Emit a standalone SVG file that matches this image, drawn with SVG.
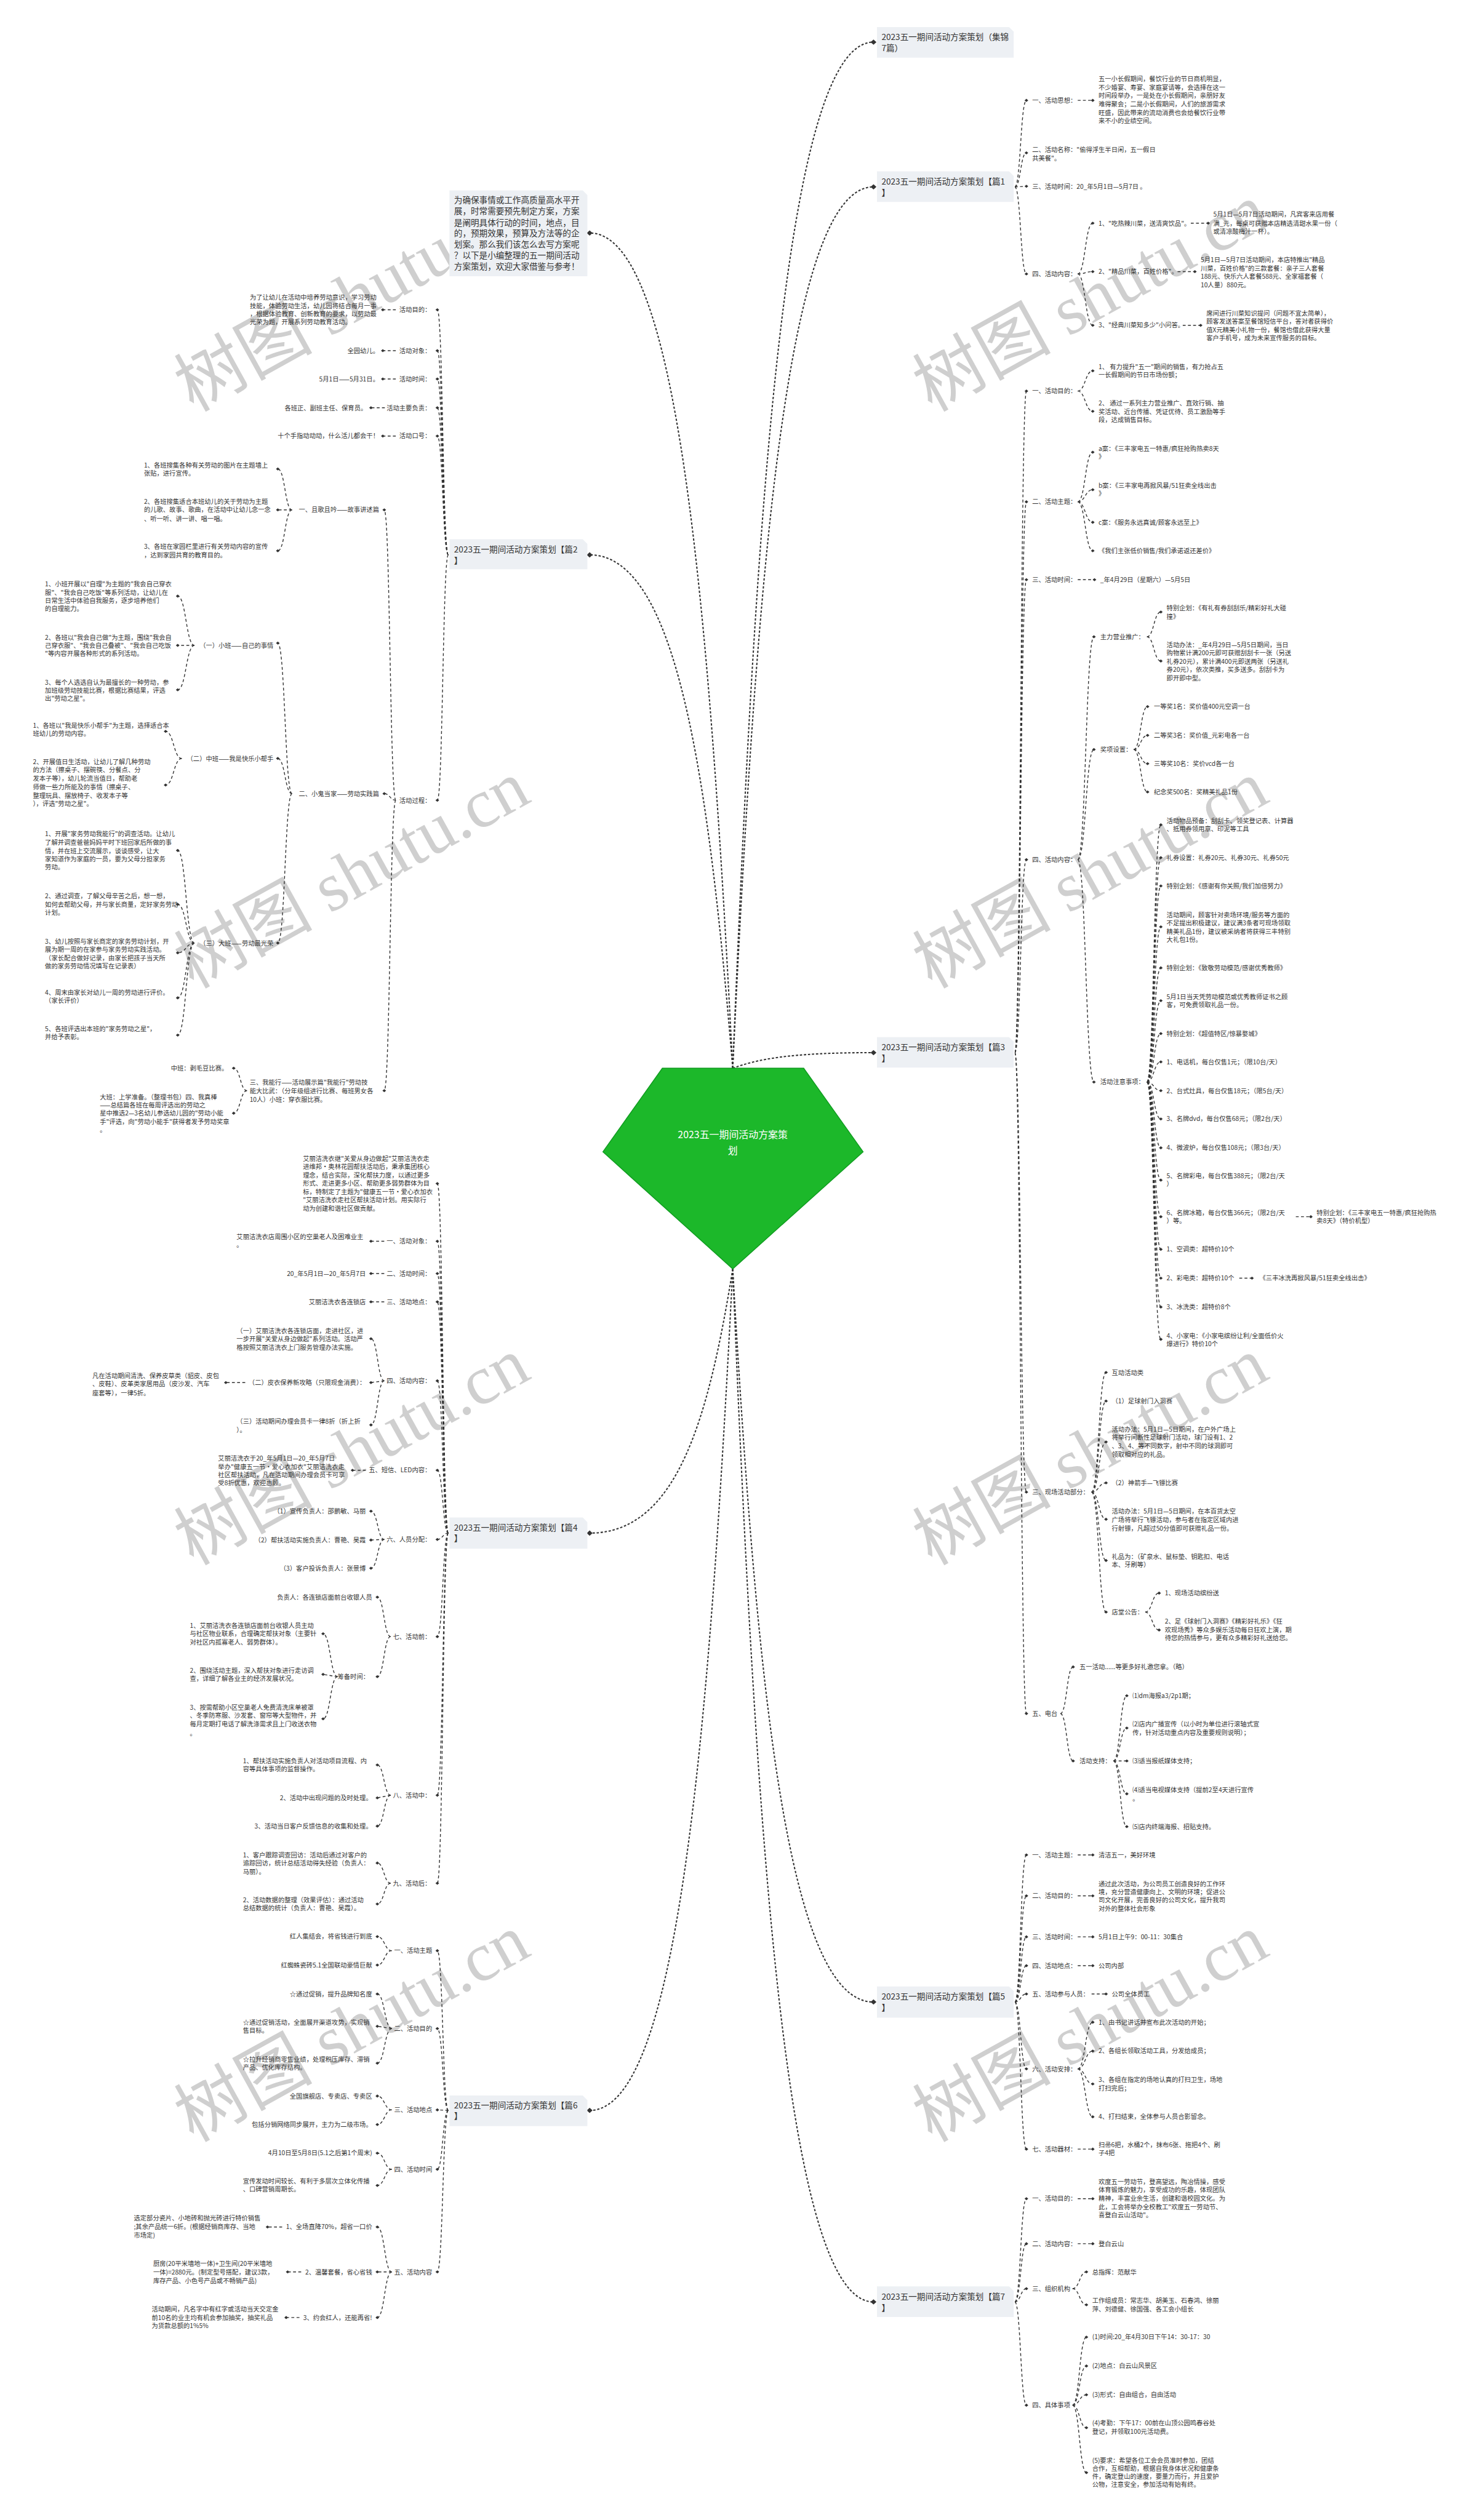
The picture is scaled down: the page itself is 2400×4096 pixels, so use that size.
<svg xmlns="http://www.w3.org/2000/svg" width="2400" height="4096" viewBox="0 0 2400 4096">
<defs>
<style>
.t{font-family:"Noto Sans CJK SC","Liberation Sans",sans-serif;font-size:11px;fill:#333}
.h{font-family:"Noto Sans CJK SC","Liberation Sans",sans-serif;font-size:14.5px;fill:#333}
.e{text-anchor:end}
.c{stroke:#333;stroke-width:1.5;fill:none;stroke-dasharray:5 4;marker-end:url(#dm)}
.m{stroke:#333;stroke-width:2.2;fill:none;stroke-dasharray:4 3;marker-end:url(#dl)}
.box{fill:#edf0f4}
.wm{font-family:"Liberation Serif","Noto Sans CJK SC",serif;font-size:120px;fill:#cfcfcf}
</style>
<marker id="dm" viewBox="-5 -5 10 10" markerWidth="8" markerHeight="8" markerUnits="userSpaceOnUse" refX="0" refY="0" orient="0"><path d="M-4,0L0,-3.4L4,0L0,3.4Z" fill="#333"/></marker>
<marker id="dl" viewBox="-6 -6 12 12" markerWidth="11" markerHeight="11" markerUnits="userSpaceOnUse" refX="0" refY="0" orient="0"><path d="M-5.5,0L0,-5L5.5,0L0,5Z" fill="#333"/></marker>
</defs>
<rect width="2400" height="4096" fill="#fff"/>
<g transform="scale(0.9375)">
<g id="watermarks">
<text class="wm" x="335" y="715" transform="rotate(-29 335 715)">树图 shutu.cn</text>
<text class="wm" x="335" y="1715" transform="rotate(-29 335 1715)">树图 shutu.cn</text>
<text class="wm" x="335" y="2715" transform="rotate(-29 335 2715)">树图 shutu.cn</text>
<text class="wm" x="335" y="3715" transform="rotate(-29 335 3715)">树图 shutu.cn</text>
<text class="wm" x="1615" y="715" transform="rotate(-29 1615 715)">树图 shutu.cn</text>
<text class="wm" x="1615" y="1715" transform="rotate(-29 1615 1715)">树图 shutu.cn</text>
<text class="wm" x="1615" y="2715" transform="rotate(-29 1615 2715)">树图 shutu.cn</text>
<text class="wm" x="1615" y="3715" transform="rotate(-29 1615 3715)">树图 shutu.cn</text>
</g>
<g id="connectors">
<path class="m" d="M1270,1852 C1311.5,838 1365,73 1514,73"/>
<path class="m" d="M1270,1852 C1311.5,981 1365,324 1514,324"/>
<path class="m" d="M1270,1852 C1311.5,1837 1365,1825 1514,1825"/>
<path class="m" d="M1270,1852 C1228,1027 1173,404 1022,404"/>
<path class="m" d="M1270,1852 C1228,1345 1173,962 1022,962"/>
<path class="m" d="M1270,2200 C1311.5,2924 1365,3471 1514,3471"/>
<path class="m" d="M1270,2200 C1311.5,3221 1365,3991 1514,3991"/>
<path class="m" d="M1270,2200 C1228,2461 1173,2658 1022,2658"/>
<path class="m" d="M1270,2200 C1228,3032 1173,3659 1022,3659"/>
<path class="c" d="M1759,324 C1769,324 1769,174 1779,174"/>
<path class="c" d="M1759,324 C1769,324 1769,265 1779,265"/>
<path class="c" d="M1759,324 L1779,323"/>
<path class="c" d="M1759,324 C1769,324 1769,475 1779,475"/>
<path class="c" d="M1868,174 H1894"/>
<path class="c" d="M1868,475 C1881,475 1881,387 1894,387"/>
<path class="c" d="M1868,475 C1881,475 1881,471 1894,471"/>
<path class="c" d="M1868,475 C1881,475 1881,564 1894,564"/>
<path class="c" d="M2064,387 H2094"/>
<path class="c" d="M2041,471 H2071"/>
<path class="c" d="M2050,564 H2081"/>
<path class="c" d="M1759,1825 C1769,1825 1769,678 1779,678"/>
<path class="c" d="M1759,1825 C1769,1825 1769,870 1779,870"/>
<path class="c" d="M1759,1825 C1769,1825 1769,1005 1779,1005"/>
<path class="c" d="M1759,1825 C1769,1825 1769,1490.5 1779,1490.5"/>
<path class="c" d="M1759,1825 C1769,1825 1769,2587 1779,2587"/>
<path class="c" d="M1759,1825 C1769,1825 1769,2971 1779,2971"/>
<path class="c" d="M1868,678 C1881,678 1881,643 1894,643"/>
<path class="c" d="M1868,678 C1881,678 1881,713 1894,713"/>
<path class="c" d="M1868,870 C1881,870 1881,784 1894,784"/>
<path class="c" d="M1868,870 C1881,870 1881,849 1894,849"/>
<path class="c" d="M1868,870 C1881,870 1881,905.5 1894,905.5"/>
<path class="c" d="M1868,870 C1881,870 1881,955 1894,955"/>
<path class="c" d="M1868,1005 H1897"/>
<path class="c" d="M1868,1490.5 C1882,1490.5 1882,1104 1896,1104"/>
<path class="c" d="M1868,1490.5 C1882,1490.5 1882,1299.5 1896,1299.5"/>
<path class="c" d="M1868,1490.5 C1882,1490.5 1882,1876 1896,1876"/>
<path class="c" d="M1988,1104 C2000,1104 2000,1061 2012,1061"/>
<path class="c" d="M1988,1104 C2000,1104 2000,1146 2012,1146"/>
<path class="c" d="M1965,1299.5 C1977,1299.5 1977,1225 1989,1225"/>
<path class="c" d="M1965,1299.5 C1977,1299.5 1977,1275 1989,1275"/>
<path class="c" d="M1965,1299.5 C1977,1299.5 1977,1324 1989,1324"/>
<path class="c" d="M1965,1299.5 C1977,1299.5 1977,1373 1989,1373"/>
<path class="c" d="M1988,1876 C2000,1876 2000,1430 2012,1430"/>
<path class="c" d="M1988,1876 C2000,1876 2000,1487 2012,1487"/>
<path class="c" d="M1988,1876 C2000,1876 2000,1536 2012,1536"/>
<path class="c" d="M1988,1876 C2000,1876 2000,1607 2012,1607"/>
<path class="c" d="M1988,1876 C2000,1876 2000,1678 2012,1678"/>
<path class="c" d="M1988,1876 C2000,1876 2000,1735 2012,1735"/>
<path class="c" d="M1988,1876 C2000,1876 2000,1792 2012,1792"/>
<path class="c" d="M1988,1876 C2000,1876 2000,1841 2012,1841"/>
<path class="c" d="M1988,1876 C2000,1876 2000,1891 2012,1891"/>
<path class="c" d="M1988,1876 C2000,1876 2000,1940 2012,1940"/>
<path class="c" d="M1988,1876 C2000,1876 2000,1990 2012,1990"/>
<path class="c" d="M1988,1876 C2000,1876 2000,2046 2012,2046"/>
<path class="c" d="M1988,1876 C2000,1876 2000,2109.5 2012,2109.5"/>
<path class="c" d="M1988,1876 C2000,1876 2000,2166 2012,2166"/>
<path class="c" d="M1988,1876 C2000,1876 2000,2216 2012,2216"/>
<path class="c" d="M1988,1876 C2000,1876 2000,2266 2012,2266"/>
<path class="c" d="M1988,1876 C2000,1876 2000,2322 2012,2322"/>
<path class="c" d="M2246,2109.5 H2272"/>
<path class="c" d="M2148,2216 H2170"/>
<path class="c" d="M1892,2587 C1904.5,2587 1904.5,2379.5 1917,2379.5"/>
<path class="c" d="M1892,2587 C1904.5,2587 1904.5,2429 1917,2429"/>
<path class="c" d="M1892,2587 C1904.5,2587 1904.5,2500 1917,2500"/>
<path class="c" d="M1892,2587 C1904.5,2587 1904.5,2571 1917,2571"/>
<path class="c" d="M1892,2587 C1904.5,2587 1904.5,2634 1917,2634"/>
<path class="c" d="M1892,2587 C1904.5,2587 1904.5,2705.5 1917,2705.5"/>
<path class="c" d="M1892,2587 C1904.5,2587 1904.5,2795 1917,2795"/>
<path class="c" d="M1985,2795 C1997,2795 1997,2762 2009,2762"/>
<path class="c" d="M1985,2795 C1997,2795 1997,2826 2009,2826"/>
<path class="c" d="M1838,2971 C1849,2971 1849,2890 1860,2890"/>
<path class="c" d="M1838,2971 C1849,2971 1849,3053 1860,3053"/>
<path class="c" d="M1930,3053 C1941.5,3053 1941.5,2940 1953,2940"/>
<path class="c" d="M1930,3053 C1941.5,3053 1941.5,2996 1953,2996"/>
<path class="c" d="M1930,3053 L1953,3053"/>
<path class="c" d="M1930,3053 C1941.5,3053 1941.5,3110 1953,3110"/>
<path class="c" d="M1930,3053 C1941.5,3053 1941.5,3167 1953,3167"/>
<path class="c" d="M1759,3471 C1769,3471 1769,3216 1779,3216"/>
<path class="c" d="M1759,3471 C1769,3471 1769,3287 1779,3287"/>
<path class="c" d="M1759,3471 C1769,3471 1769,3358 1779,3358"/>
<path class="c" d="M1759,3471 C1769,3471 1769,3408 1779,3408"/>
<path class="c" d="M1759,3471 C1769,3471 1769,3457 1779,3457"/>
<path class="c" d="M1759,3471 C1769,3471 1769,3587 1779,3587"/>
<path class="c" d="M1759,3471 C1769,3471 1769,3726 1779,3726"/>
<path class="c" d="M1868,3216 H1894"/>
<path class="c" d="M1868,3287 H1894"/>
<path class="c" d="M1868,3358 H1894"/>
<path class="c" d="M1868,3408 H1894"/>
<path class="c" d="M1892,3457 H1917"/>
<path class="c" d="M1868,3587 C1881,3587 1881,3506 1894,3506"/>
<path class="c" d="M1868,3587 C1881,3587 1881,3556 1894,3556"/>
<path class="c" d="M1868,3587 C1881,3587 1881,3613 1894,3613"/>
<path class="c" d="M1868,3587 C1881,3587 1881,3670 1894,3670"/>
<path class="c" d="M1868,3726 H1894"/>
<path class="c" d="M1759,3991 C1769,3991 1769,3812 1779,3812"/>
<path class="c" d="M1759,3991 C1769,3991 1769,3890 1779,3890"/>
<path class="c" d="M1759,3991 C1769,3991 1769,3968 1779,3968"/>
<path class="c" d="M1759,3991 C1769,3991 1769,4170 1779,4170"/>
<path class="c" d="M1868,3812 H1894"/>
<path class="c" d="M1868,3890 H1894"/>
<path class="c" d="M1859,3968 C1871,3968 1871,3939 1883,3939"/>
<path class="c" d="M1859,3968 C1871,3968 1871,3996 1883,3996"/>
<path class="c" d="M1859,4170 C1871,4170 1871,4052 1883,4052"/>
<path class="c" d="M1859,4170 C1871,4170 1871,4102 1883,4102"/>
<path class="c" d="M1859,4170 C1871,4170 1871,4152 1883,4152"/>
<path class="c" d="M1859,4170 C1871,4170 1871,4209 1883,4209"/>
<path class="c" d="M1859,4170 C1871,4170 1871,4287 1883,4287"/>
<path class="c" d="M777,962 C767.5,962 767.5,537 758,537"/>
<path class="c" d="M777,962 C767.5,962 767.5,608 758,608"/>
<path class="c" d="M777,962 C767.5,962 767.5,657 758,657"/>
<path class="c" d="M777,962 C767.5,962 767.5,707 758,707"/>
<path class="c" d="M777,962 C767.5,962 767.5,756 758,756"/>
<path class="c" d="M777,962 C767.5,962 767.5,1387.5 758,1387.5"/>
<path class="c" d="M686,537 H663.5"/>
<path class="c" d="M686,608 H663.5"/>
<path class="c" d="M686,657 H663.5"/>
<path class="c" d="M667,707 H643"/>
<path class="c" d="M686,756 H663.5"/>
<path class="c" d="M686,1387.5 C676,1387.5 676,884 666,884"/>
<path class="c" d="M686,1387.5 C676,1387.5 676,1376 666,1376"/>
<path class="c" d="M686,1387.5 C676,1387.5 676,1891 666,1891"/>
<path class="c" d="M506,884 C494,884 494,813 481.5,813"/>
<path class="c" d="M506,884 L481.5,884"/>
<path class="c" d="M506,884 C494,884 494,955 481.5,955"/>
<path class="c" d="M506,1376 C494,1376 494,1115 481.5,1115"/>
<path class="c" d="M506,1376 C494,1376 494,1315 481.5,1315"/>
<path class="c" d="M506,1376 C494,1376 494,1635 481.5,1635"/>
<path class="c" d="M337,1119 C322.5,1119 322.5,1033.5 308,1033.5"/>
<path class="c" d="M337,1119 L308,1119"/>
<path class="c" d="M337,1119 C322.5,1119 322.5,1196 308,1196"/>
<path class="c" d="M315,1315 C301,1315 301,1268 287,1268"/>
<path class="c" d="M315,1315 C301,1315 301,1361 287,1361"/>
<path class="c" d="M337,1635 C322.5,1635 322.5,1474.5 308,1474.5"/>
<path class="c" d="M337,1635 C322.5,1635 322.5,1568 308,1568"/>
<path class="c" d="M337,1635 C322.5,1635 322.5,1652 308,1652"/>
<path class="c" d="M337,1635 C322.5,1635 322.5,1730 308,1730"/>
<path class="c" d="M337,1635 C322.5,1635 322.5,1794.6 308,1794.6"/>
<path class="c" d="M428,1891 C416.5,1891 416.5,1852 405,1852"/>
<path class="c" d="M428,1891 C416.5,1891 416.5,1930 405,1930"/>
<path class="c" d="M777,2658 C767.5,2658 767.5,2052 758,2052"/>
<path class="c" d="M777,2658 C767.5,2658 767.5,2152 758,2152"/>
<path class="c" d="M777,2658 C767.5,2658 767.5,2208 758,2208"/>
<path class="c" d="M777,2658 C767.5,2658 767.5,2257 758,2257"/>
<path class="c" d="M777,2658 C767.5,2658 767.5,2394 758,2394"/>
<path class="c" d="M777,2658 C767.5,2658 767.5,2549 758,2549"/>
<path class="c" d="M777,2658 C767.5,2658 767.5,2669 758,2669"/>
<path class="c" d="M777,2658 C767.5,2658 767.5,2837.5 758,2837.5"/>
<path class="c" d="M777,2658 C767.5,2658 767.5,3112.5 758,3112.5"/>
<path class="c" d="M777,2658 C767.5,2658 767.5,3265 758,3265"/>
<path class="c" d="M666,2152 H643"/>
<path class="c" d="M666,2208 H643"/>
<path class="c" d="M666,2257 H643"/>
<path class="c" d="M666,2394 C654.5,2394 654.5,2321 643,2321"/>
<path class="c" d="M666,2394 L643,2397"/>
<path class="c" d="M666,2394 C654.5,2394 654.5,2470.5 643,2470.5"/>
<path class="c" d="M425,2397 H391.4"/>
<path class="c" d="M634,2549 H611"/>
<path class="c" d="M666,2669 C654.5,2669 654.5,2620 643,2620"/>
<path class="c" d="M666,2669 L643,2670"/>
<path class="c" d="M666,2669 C654.5,2669 654.5,2719 643,2719"/>
<path class="c" d="M677,2837.5 C665.5,2837.5 665.5,2769 654,2769"/>
<path class="c" d="M677,2837.5 C665.5,2837.5 665.5,2907 654,2907"/>
<path class="c" d="M585,2907 C572.5,2907 572.5,2832.6 560,2832.6"/>
<path class="c" d="M585,2907 L560,2903"/>
<path class="c" d="M585,2907 C572.5,2907 572.5,2980 560,2980"/>
<path class="c" d="M677,3112.5 C665.5,3112.5 665.5,3060 654,3060"/>
<path class="c" d="M677,3112.5 L654,3117"/>
<path class="c" d="M677,3112.5 C665.5,3112.5 665.5,3166 654,3166"/>
<path class="c" d="M677,3265 C665.5,3265 665.5,3230 654,3230"/>
<path class="c" d="M677,3265 C665.5,3265 665.5,3301 654,3301"/>
<path class="c" d="M777,3659 C767.5,3659 767.5,3382 758,3382"/>
<path class="c" d="M777,3659 C767.5,3659 767.5,3517 758,3517"/>
<path class="c" d="M777,3659 L758,3658"/>
<path class="c" d="M777,3659 C767.5,3659 767.5,3761 758,3761"/>
<path class="c" d="M777,3659 C767.5,3659 767.5,3939 758,3939"/>
<path class="c" d="M679,3382 C666.5,3382 666.5,3357.6 654,3357.6"/>
<path class="c" d="M679,3382 C666.5,3382 666.5,3407 654,3407"/>
<path class="c" d="M679,3517 C666.5,3517 666.5,3457 654,3457"/>
<path class="c" d="M679,3517 L654,3513"/>
<path class="c" d="M679,3517 C666.5,3517 666.5,3577 654,3577"/>
<path class="c" d="M679,3658 C666.5,3658 666.5,3634 654,3634"/>
<path class="c" d="M679,3658 C666.5,3658 666.5,3683.5 654,3683.5"/>
<path class="c" d="M679,3761 C666.5,3761 666.5,3733 654,3733"/>
<path class="c" d="M679,3761 C666.5,3761 666.5,3789 654,3789"/>
<path class="c" d="M679,3939 C666.5,3939 666.5,3861 654,3861"/>
<path class="c" d="M679,3939 L654,3939"/>
<path class="c" d="M679,3939 C666.5,3939 666.5,4018 654,4018"/>
<path class="c" d="M489,3861 H463.7"/>
<path class="c" d="M522,3939 H498.6"/>
<path class="c" d="M519,4018 H496"/>
</g>
<g id="center">
<polygon points="1148,1852 1393,1852 1496,1997 1270,2200 1045,1997" fill="#1cb82a" stroke="#0e9a1e" stroke-width="1.5"/>
<text x="1270" y="1973" text-anchor="middle" font-family="Noto Sans CJK SC, Liberation Sans, sans-serif" font-size="17" fill="#fff"><tspan x="1270" y="1973">2023五一期间活动方案策</tspan><tspan x="1270" y="2001">划</tspan></text>
</g>
<g id="n-jj"><path class="box" d="M1520,47 H1749 L1757,55 V100 H1520 Z"/><text class="h"><tspan x="1528" y="69">2023五一期间活动方案策划（集锦</tspan><tspan x="1528" y="88.5">7篇）</tspan></text></g>
<g id="n-p1"><path class="box" d="M1520,297 H1749 L1757,305 V350 H1520 Z"/><text class="h"><tspan x="1528" y="320">2023五一期间活动方案策划【篇1</tspan><tspan x="1528" y="339">】</tspan></text></g>
<g id="n-p3"><path class="box" d="M1520,1798 H1749 L1757,1806 V1851 H1520 Z"/><text class="h"><tspan x="1528" y="1821">2023五一期间活动方案策划【篇3</tspan><tspan x="1528" y="1840">】</tspan></text></g>
<g id="n-p5"><path class="box" d="M1520,3444 H1749 L1757,3452 V3498 H1520 Z"/><text class="h"><tspan x="1528" y="3467">2023五一期间活动方案策划【篇5</tspan><tspan x="1528" y="3486">】</tspan></text></g>
<g id="n-p7"><path class="box" d="M1520,3964 H1749 L1757,3972 V4017 H1520 Z"/><text class="h"><tspan x="1528" y="3987">2023五一期间活动方案策划【篇7</tspan><tspan x="1528" y="4006">】</tspan></text></g>
<g id="n-intro"><path class="box" d="M779,330 H1010 L1018,338 V479 H779 Z"/><text class="h"><tspan x="787" y="352">为确保事情或工作高质量高水平开</tspan><tspan x="787" y="371">展，时常需要预先制定方案，方案</tspan><tspan x="787" y="391">是阐明具体行动的时间，地点，目</tspan><tspan x="787" y="410">的，预期效果，预算及方法等的企</tspan><tspan x="787" y="429">划案。那么我们该怎么去写方案呢</tspan><tspan x="787" y="448">？以下是小编整理的五一期间活动</tspan><tspan x="787" y="467.5">方案策划，欢迎大家借鉴与参考！</tspan></text></g>
<g id="n-p2"><path class="box" d="M779,935 H1010 L1018,943 V987 H779 Z"/><text class="h"><tspan x="787" y="958">2023五一期间活动方案策划【篇2</tspan><tspan x="787" y="977">】</tspan></text></g>
<g id="n-p4"><path class="box" d="M779,2631 H1010 L1018,2639 V2685 H779 Z"/><text class="h"><tspan x="787" y="2654">2023五一期间活动方案策划【篇4</tspan><tspan x="787" y="2672">】</tspan></text></g>
<g id="n-p6"><path class="box" d="M779,3633 H1010 L1018,3641 V3686 H779 Z"/><text class="h"><tspan x="787" y="3655">2023五一期间活动方案策划【篇6</tspan><tspan x="787" y="3674">】</tspan></text></g>
<g id="p1-a"><text class="t" x="1789" y="178">一、活动思想：</text></g>
<g id="p1-a1"><text class="t"><tspan x="1904" y="141">五一小长假期间，餐饮行业的节日商机明显，</tspan><tspan x="1904" y="155.5">不少婚宴、寿宴、家庭宴请等，会选择在这一</tspan><tspan x="1904" y="170">时间段举办，一是处在小长假期间，亲朋好友</tspan><tspan x="1904" y="184.5">难得聚会；二是小长假期间，人们的旅游需求</tspan><tspan x="1904" y="199">旺盛，因此带来的流动消费也会给餐饮行业带</tspan><tspan x="1904" y="213.5">来不小的业绩空间。</tspan></text></g>
<g id="p1-b"><text class="t"><tspan x="1789" y="263">二、活动名称："偷得浮生半日闲，五一假日</tspan><tspan x="1789" y="278">共美餐"。</tspan></text></g>
<g id="p1-c"><text class="t" x="1789" y="327">三、活动时间：20_年5月1日—5月7日 。</text></g>
<g id="p1-d"><text class="t" x="1789" y="479">四、活动内容：</text></g>
<g id="p1-d1"><text class="t" x="1904" y="391">1、"吃热辣川菜，送清爽饮品"。</text></g>
<g id="p1-d1a"><text class="t"><tspan x="2103" y="376">5月1日—5月7日活动期间，凡宾客来店用餐</tspan><tspan x="2103" y="391">满_元，每桌可获赠本店精选清甜水果一份（</tspan><tspan x="2103" y="405">或清凉酸梅汁一杯）。</tspan></text></g>
<g id="p1-d2"><text class="t" x="1904" y="475">2、"精品川菜，百姓价格"。</text></g>
<g id="p1-d2a"><text class="t"><tspan x="2081" y="454">5月1日—5月7日活动期间，本店特推出"精品</tspan><tspan x="2081" y="469">川菜，百姓价格"的三款套餐：亲子三人套餐</tspan><tspan x="2081" y="483">188元、快乐六人套餐588元、全家福套餐（</tspan><tspan x="2081" y="498">10人量）880元。</tspan></text></g>
<g id="p1-d3"><text class="t" x="1904" y="568">3、"经典川菜知多少"小问答。</text></g>
<g id="p1-d3a"><text class="t"><tspan x="2091" y="547">席间进行川菜知识提问（问题不宜太简单），</tspan><tspan x="2091" y="561">顾客发送答案至餐馆短信平台，答对者获得价</tspan><tspan x="2091" y="576">值X元精美小礼物一份，餐馆也借此获得大量</tspan><tspan x="2091" y="590">客户手机号，成为未来宣传服务的目标。</tspan></text></g>
<g id="p3-a"><text class="t" x="1789" y="682">一、活动目的：</text></g>
<g id="p3-a1"><text class="t"><tspan x="1904" y="640">1、 有力提升"五一"期间的销售，有力抢占五</tspan><tspan x="1904" y="654">一长假期间的节日市场份额；</tspan></text></g>
<g id="p3-a2"><text class="t"><tspan x="1904" y="703">2、 通过一系列主力营业推广、直效行销、抽</tspan><tspan x="1904" y="718">奖活动、近台传播、凭证优待、员工激励等手</tspan><tspan x="1904" y="732">段，达成销售目标。</tspan></text></g>
<g id="p3-b"><text class="t" x="1789" y="874">二、活动主题：</text></g>
<g id="p3-b1"><text class="t"><tspan x="1904" y="782">a案：《三丰家电五一特惠/疯狂抢购热卖8天</tspan><tspan x="1904" y="796">》</tspan></text></g>
<g id="p3-b2"><text class="t"><tspan x="1904" y="846">b案：《三丰家电再掀风暴/51狂卖全线出击</tspan><tspan x="1904" y="860">》</tspan></text></g>
<g id="p3-b3"><text class="t" x="1904" y="909.5">c案：《服务永远真诚/顾客永远至上》</text></g>
<g id="p3-b4"><text class="t" x="1904" y="959">《我们主张低价销售/我们承诺返还差价》</text></g>
<g id="p3-c"><text class="t" x="1789" y="1009">三、活动时间：</text></g>
<g id="p3-c1"><text class="t" x="1907" y="1009">_年4月29日（星期六）—5月5日</text></g>
<g id="p3-d"><text class="t" x="1789" y="1494.5">四、活动内容：</text></g>
<g id="p3-d1"><text class="t" x="1907" y="1108">主力营业推广：</text></g>
<g id="p3-d1a"><text class="t"><tspan x="2022" y="1058">特别企划：《有礼有券刮刮乐/精彩好礼大碰</tspan><tspan x="2022" y="1073">撞》</tspan></text></g>
<g id="p3-d1b"><text class="t"><tspan x="2022" y="1122">活动办法：_年4月29日—5月5日期间，当日</tspan><tspan x="2022" y="1136">购物累计满200元即可获赠刮刮卡一张（另送</tspan><tspan x="2022" y="1151">礼券20元），累计满400元即送两张（另送礼</tspan><tspan x="2022" y="1165">券20元），依次类推，买多送多。刮刮卡为</tspan><tspan x="2022" y="1180">即开即中型。</tspan></text></g>
<g id="p3-d2"><text class="t" x="1907" y="1303.5">奖项设置：</text></g>
<g id="p3-d2a"><text class="t" x="2000" y="1229">一等奖1名：奖价值400元空调一台</text></g>
<g id="p3-d2b"><text class="t" x="2000" y="1279">二等奖3名：奖价值_元彩电各一台</text></g>
<g id="p3-d2c"><text class="t" x="2000" y="1328">三等奖10名：奖价vcd各一台</text></g>
<g id="p3-d2d"><text class="t" x="2000" y="1377">纪念奖500名：奖精美礼品1份</text></g>
<g id="p3-d3"><text class="t" x="1907" y="1880">活动注意事项：</text></g>
<g id="p3-d3a"><text class="t"><tspan x="2022" y="1427">活动物品预备：刮刮卡、领奖登记表、计算器</tspan><tspan x="2022" y="1441">、抵用券领用章、印泥等工具</tspan></text></g>
<g id="p3-d3b"><text class="t" x="2022" y="1491">礼券设置：礼券20元、礼券30元、礼券50元</text></g>
<g id="p3-d3c"><text class="t" x="2022" y="1540">特别企划：《感谢有你关照/我们加倍努力》</text></g>
<g id="p3-d3d"><text class="t"><tspan x="2022" y="1590">活动期间，顾客针对卖场环境/服务等方面的</tspan><tspan x="2022" y="1604.5">不足提出积极建议，建议满3条者可现场领取</tspan><tspan x="2022" y="1619">精美礼品1份，建议被采纳者将获得三丰特别</tspan><tspan x="2022" y="1633.5">大礼包1份。</tspan></text></g>
<g id="p3-d3e"><text class="t" x="2022" y="1682">特别企划：《致敬劳动模范/感谢优秀教师》</text></g>
<g id="p3-d3f"><text class="t"><tspan x="2022" y="1732">5月1日当天凭劳动模范或优秀教师证书之顾</tspan><tspan x="2022" y="1746">客，可免费领取礼品一份。</tspan></text></g>
<g id="p3-d3g"><text class="t" x="2022" y="1796">特别企划：《超值特区/惊暴婺城》</text></g>
<g id="p3-d3h"><text class="t" x="2022" y="1845">1、电话机，每台仅售1元；（限10台/天）</text></g>
<g id="p3-d3i"><text class="t" x="2022" y="1895">2、台式灶具，每台仅售18元；（限5台/天）</text></g>
<g id="p3-d3j"><text class="t" x="2022" y="1944">3、名牌dvd，每台仅售68元；（限2台/天）</text></g>
<g id="p3-d3k"><text class="t" x="2022" y="1994">4、微波炉，每台仅售108元；（限3台/天）</text></g>
<g id="p3-d3l"><text class="t"><tspan x="2022" y="2043">5、名牌彩电，每台仅售388元；（限2台/天</tspan><tspan x="2022" y="2057">）</tspan></text></g>
<g id="p3-d3m"><text class="t"><tspan x="2022" y="2107">6、名牌冰箱，每台仅售366元；（限2台/天</tspan><tspan x="2022" y="2121">）等。</tspan></text></g>
<g id="p3-d3m1"><text class="t"><tspan x="2282" y="2107">特别企划：《三丰家电五一特惠/疯狂抢购热</tspan><tspan x="2282" y="2121">卖8天》（特价机型）</tspan></text></g>
<g id="p3-d3n"><text class="t" x="2022" y="2170">1、空调类：超特价10个</text></g>
<g id="p3-d3o"><text class="t" x="2022" y="2220">2、彩电类：超特价10个</text></g>
<g id="p3-d3o1"><text class="t" x="2183" y="2220">《三丰冰洗再掀风暴/51狂卖全线出击》</text></g>
<g id="p3-d3p"><text class="t" x="2022" y="2270">3、冰洗类：超特价8个</text></g>
<g id="p3-d3q"><text class="t"><tspan x="2022" y="2320">4、小家电：《小家电缤纷让利/全面低价火</tspan><tspan x="2022" y="2334">爆进行》特价10个</tspan></text></g>
<g id="p3-e"><text class="t" x="1789" y="2591">三、现场活动部分：</text></g>
<g id="p3-e1"><text class="t" x="1927" y="2383.5">互动活动类</text></g>
<g id="p3-e2"><text class="t" x="1927" y="2433">（1）足球射门入洞赛</text></g>
<g id="p3-e3"><text class="t"><tspan x="1927" y="2482">活动办法：5月1日—5日期间，在户外广场上</tspan><tspan x="1927" y="2496.5">将举行间断性足球射门活动，球门设有1、2</tspan><tspan x="1927" y="2511">、3、4、等不同数字，射中不同的球洞即可</tspan><tspan x="1927" y="2526">领取相对应的礼品。</tspan></text></g>
<g id="p3-e4"><text class="t" x="1927" y="2575">（2）神箭手—飞镖比赛</text></g>
<g id="p3-e5"><text class="t"><tspan x="1927" y="2624">活动办法：5月1日—5日期间，在本百货太空</tspan><tspan x="1927" y="2639">广场将举行飞镖活动，参与者在指定区域内进</tspan><tspan x="1927" y="2653.5">行射镖，凡超过50分值即可获赠礼品一份。</tspan></text></g>
<g id="p3-e6"><text class="t"><tspan x="1927" y="2703">礼品为：（矿泉水、鼠标垫、钥匙扣、电话</tspan><tspan x="1927" y="2717">本、牙刷等）</tspan></text></g>
<g id="p3-e7"><text class="t" x="1927" y="2799">店堂公告：</text></g>
<g id="p3-e7a"><text class="t" x="2019" y="2766">1、现场活动缤纷送</text></g>
<g id="p3-e7b"><text class="t"><tspan x="2019" y="2815">2、足《球射门入洞赛》《精彩好礼乐》《狂</tspan><tspan x="2019" y="2830">欢现场秀》等众多娱乐活动每日狂欢上演，期</tspan><tspan x="2019" y="2844">待您的热情参与，更有众多精彩好礼送给您。</tspan></text></g>
<g id="p3-f"><text class="t" x="1789" y="2975">五、电台</text></g>
<g id="p3-f1"><text class="t" x="1871" y="2894">五一活动......等更多好礼邀您拿。（略）</text></g>
<g id="p3-f2"><text class="t" x="1871" y="3057">活动支持：</text></g>
<g id="p3-f2a"><text class="t" x="1963" y="2944">⑴dm海报a3/2p1期；</text></g>
<g id="p3-f2b"><text class="t"><tspan x="1963" y="2993">⑵店内广播宣传（以小时为单位进行滚轴式宣</tspan><tspan x="1963" y="3008">传，针对活动重点内容及重要规则说明）；</tspan></text></g>
<g id="p3-f2c"><text class="t" x="1963" y="3057">⑶适当报纸媒体支持；</text></g>
<g id="p3-f2d"><text class="t"><tspan x="1963" y="3107">⑷适当电视媒体支持（提前2至4天进行宣传</tspan><tspan x="1963" y="3122">。</tspan></text></g>
<g id="p3-f2e"><text class="t" x="1963" y="3171">⑸店内终端海报、招贴支持。</text></g>
<g id="p5-a"><text class="t" x="1789" y="3220">一、活动主题：</text></g>
<g id="p5-a1"><text class="t" x="1904" y="3220">清洁五一，美好环境</text></g>
<g id="p5-b"><text class="t" x="1789" y="3291">二、活动目的：</text></g>
<g id="p5-b1"><text class="t"><tspan x="1904" y="3270">通过此次活动，为公司员工创造良好的工作环</tspan><tspan x="1904" y="3284">境，充分营造健康向上、文明的环境；促进公</tspan><tspan x="1904" y="3298">司文化开展，完善良好的公司文化，提升我司</tspan><tspan x="1904" y="3313">对外的整体社会形象</tspan></text></g>
<g id="p5-c"><text class="t" x="1789" y="3362">三、活动时间：</text></g>
<g id="p5-c1"><text class="t" x="1904" y="3362">5月1日上午9：00-11：30集合</text></g>
<g id="p5-d"><text class="t" x="1789" y="3412">四、活动地点：</text></g>
<g id="p5-d1"><text class="t" x="1904" y="3412">公司内部</text></g>
<g id="p5-e"><text class="t" x="1789" y="3461">五、活动参与人员：</text></g>
<g id="p5-e1"><text class="t" x="1927" y="3461">公司全体员工</text></g>
<g id="p5-f"><text class="t" x="1789" y="3591">六、活动安排：</text></g>
<g id="p5-f1"><text class="t" x="1904" y="3510">1、由书记讲话并宣布此次活动的开始；</text></g>
<g id="p5-f2"><text class="t" x="1904" y="3560">2、各组长领取活动工具，分发给成员；</text></g>
<g id="p5-f3"><text class="t"><tspan x="1904" y="3610">3、各组在指定的场地认真的打扫卫生，场地</tspan><tspan x="1904" y="3625">打扫完后；</tspan></text></g>
<g id="p5-f4"><text class="t" x="1904" y="3674">4、打扫结束，全体参与人员合影留念。</text></g>
<g id="p5-g"><text class="t" x="1789" y="3730">七、活动器材：</text></g>
<g id="p5-g1"><text class="t"><tspan x="1904" y="3723">扫帚6把，水桶2个，抹布6张、拖把4个、刷</tspan><tspan x="1904" y="3737">子4把</tspan></text></g>
<g id="p7-a"><text class="t" x="1789" y="3816">一、活动目的：</text></g>
<g id="p7-a1"><text class="t"><tspan x="1904" y="3787">欢度五一劳动节，登高望远，陶冶情操，感受</tspan><tspan x="1904" y="3801">体育锻炼的魅力，享受成功的乐趣，体现团队</tspan><tspan x="1904" y="3816">精神，丰富业余生活，创建和谐校园文化。为</tspan><tspan x="1904" y="3830">此，工会将举办全校教工"欢度五一劳动节、</tspan><tspan x="1904" y="3844">喜登白云山活动"。</tspan></text></g>
<g id="p7-b"><text class="t" x="1789" y="3894">二、活动内容：</text></g>
<g id="p7-b1"><text class="t" x="1904" y="3894">登白云山</text></g>
<g id="p7-c"><text class="t" x="1789" y="3972">三、组织机构</text></g>
<g id="p7-c1"><text class="t" x="1893" y="3943">总指挥：范献华</text></g>
<g id="p7-c2"><text class="t"><tspan x="1893" y="3993">工作组成员：常志华、胡美玉、石春鸿、徐丽</tspan><tspan x="1893" y="4007">萍、刘德健、徐国强、各工会小组长</tspan></text></g>
<g id="p7-d"><text class="t" x="1789" y="4174">四、具体事项</text></g>
<g id="p7-d1"><text class="t" x="1893" y="4056">(1)时间:20_年4月30日下午14：30-17：30</text></g>
<g id="p7-d2"><text class="t" x="1893" y="4106">(2)地点：白云山风景区</text></g>
<g id="p7-d3"><text class="t" x="1893" y="4156">(3)形式：自由组合，自由活动</text></g>
<g id="p7-d4"><text class="t"><tspan x="1893" y="4205">(4)考勤：下午17：00前在山顶公园鸣春谷处</tspan><tspan x="1893" y="4220">登记，并领取100元活动费。</tspan></text></g>
<g id="p7-d5"><text class="t"><tspan x="1893" y="4270">(5)要求：希望各位工会会员准时参加，团结</tspan><tspan x="1893" y="4284">合作，互相帮助，根据自我身体状况和健康条</tspan><tspan x="1893" y="4298">件，确定登山的速度，要量力而行，并且爱护</tspan><tspan x="1893" y="4312">公物，注意安全，参加活动有始有终。</tspan></text></g>
<g id="p2-a"><text class="t e" x="747" y="541">活动目的：</text></g>
<g id="p2-a1"><text class="t"><tspan x="433" y="520">为了让幼儿在活动中培养劳动意识，学习劳动</tspan><tspan x="433" y="534">技能，体验劳动生活，幼儿园将结合每月一事</tspan><tspan x="433" y="548">，根据体验教育、创新教育的要求，以劳动最</tspan><tspan x="433" y="562">光荣为题，开展系列劳动教育活动。</tspan></text></g>
<g id="p2-b"><text class="t e" x="747" y="612">活动对象：</text></g>
<g id="p2-b1"><text class="t e" x="657" y="612">全园幼儿。</text></g>
<g id="p2-c"><text class="t e" x="747" y="661">活动时间：</text></g>
<g id="p2-c1"><text class="t e" x="657" y="661">5月1日——5月31日。</text></g>
<g id="p2-d"><text class="t e" x="747" y="711">活动主要负责：</text></g>
<g id="p2-d1"><text class="t e" x="636" y="711">各班正、副班主任、保育员。</text></g>
<g id="p2-e"><text class="t e" x="747" y="760">活动口号：</text></g>
<g id="p2-e1"><text class="t e" x="657" y="760">十个手指动动动，什么活儿都会干！</text></g>
<g id="p2-f"><text class="t e" x="747" y="1391.5">活动过程：</text></g>
<g id="p2-f1"><text class="t e" x="657" y="888">一、且歌且吟——故事讲述篇</text></g>
<g id="p2-f1a"><text class="t"><tspan x="249.5" y="811">1、各班搜集各种有关劳动的图片在主题墙上</tspan><tspan x="249.5" y="824.5">张贴，进行宣传。</tspan></text></g>
<g id="p2-f1b"><text class="t"><tspan x="249.5" y="874">2、各班搜集适合本班幼儿的关于劳动为主题</tspan><tspan x="249.5" y="888">的儿歌、故事、歌曲，在活动中让幼儿念一念</tspan><tspan x="249.5" y="903">、听一听、讲一讲、唱一唱。</tspan></text></g>
<g id="p2-f1c"><text class="t"><tspan x="249.5" y="952">3、各班在家园栏里进行有关劳动内容的宣传</tspan><tspan x="249.5" y="966.5">，达到家园共育的教育目的。</tspan></text></g>
<g id="p2-f2"><text class="t e" x="657" y="1380">二、小鬼当家——劳动实践篇</text></g>
<g id="p2-f2a"><text class="t e" x="474" y="1123">（一）小班——自己的事情</text></g>
<g id="p2-f2a1"><text class="t"><tspan x="78" y="1016.5">1、小班开展以"自理"为主题的"我会自己穿衣</tspan><tspan x="78" y="1031">服"、"我会自己吃饭"等系列活动，让幼儿在</tspan><tspan x="78" y="1045">日常生活中体验自我服务，逐步培养他们</tspan><tspan x="78" y="1059.5">的自理能力。</tspan></text></g>
<g id="p2-f2a2"><text class="t"><tspan x="78" y="1109">2、各班以"我会自己做"为主题，围绕"我会自</tspan><tspan x="78" y="1123">己穿衣服"、"我会自己叠被"、"我会自己吃饭</tspan><tspan x="78" y="1137.5">"等内容开展各种形式的系列活动。</tspan></text></g>
<g id="p2-f2a3"><text class="t"><tspan x="78" y="1187">3、每个人选选自认为最擅长的一种劳动，参</tspan><tspan x="78" y="1201">加班级劳动技能比赛，根据比赛结果，评选</tspan><tspan x="78" y="1215">出"劳动之星"。</tspan></text></g>
<g id="p2-f2b"><text class="t e" x="474" y="1319">（二）中班——我是快乐小帮手</text></g>
<g id="p2-f2b1"><text class="t"><tspan x="57" y="1262">1、各班以"我是快乐小帮手"为主题，选择适合本</tspan><tspan x="57" y="1276">班幼儿的劳动内容。</tspan></text></g>
<g id="p2-f2b2"><text class="t"><tspan x="57" y="1325">2、开展值日生活动，让幼儿了解几种劳动</tspan><tspan x="57" y="1339">的方法（擦桌子、摆碗筷、分餐点、分</tspan><tspan x="57" y="1353.5">发本子等），幼儿轮流当值日，帮助老</tspan><tspan x="57" y="1369">师做一些力所能及的事情（擦桌子、</tspan><tspan x="57" y="1383">整理玩具、摆放椅子、收发本子等</tspan><tspan x="57" y="1397">），评选"劳动之星"。</tspan></text></g>
<g id="p2-f2c"><text class="t e" x="474" y="1639">（三）大班——劳动最光荣</text></g>
<g id="p2-f2c1"><text class="t"><tspan x="78" y="1450">1、开展"家务劳动我能行"的调查活动。让幼儿</tspan><tspan x="78" y="1465">了解并调查爸爸妈妈平时下班回家后所做的事</tspan><tspan x="78" y="1479">情，并在班上交流展示，谈谈感受，让大</tspan><tspan x="78" y="1493">家知道作为家庭的一员，要为父母分担家务</tspan><tspan x="78" y="1507">劳动。</tspan></text></g>
<g id="p2-f2c2"><text class="t"><tspan x="78" y="1557.5">2、通过调查，了解父母辛苦之后，想一想，</tspan><tspan x="78" y="1572">如何去帮助父母，并与家长商量，定好家务劳动</tspan><tspan x="78" y="1586">计划。</tspan></text></g>
<g id="p2-f2c3"><text class="t"><tspan x="78" y="1636">3、幼儿按照与家长商定的家务劳动计划，开</tspan><tspan x="78" y="1650">展为期一周的在家参与家务劳动实践活动。</tspan><tspan x="78" y="1665">（家长配合做好记录，由家长把孩子当天所</tspan><tspan x="78" y="1679">做的家务劳动情况填写在记录表）</tspan></text></g>
<g id="p2-f2c4"><text class="t"><tspan x="78" y="1724.5">4、周末由家长对幼儿一周的劳动进行评价。</tspan><tspan x="78" y="1739">（家长评价）</tspan></text></g>
<g id="p2-f2c5"><text class="t"><tspan x="78" y="1788">5、各班评选出本班的"家务劳动之星"，</tspan><tspan x="78" y="1802">并给予表彰。</tspan></text></g>
<g id="p2-f3"><text class="t"><tspan x="432.7" y="1881">三、我能行——活动展示篇"我能行"劳动技</tspan><tspan x="432.7" y="1896">能大比武：（分年级组进行比赛、每班男女各</tspan><tspan x="432.7" y="1910">10人）小班：穿衣服比赛。</tspan></text></g>
<g id="p2-f3a"><text class="t e" x="395" y="1856">中班：剥毛豆比赛。</text></g>
<g id="p2-f3b"><text class="t"><tspan x="173" y="1906">大班：上学准备。（整理书包）四、我真棒</tspan><tspan x="173" y="1920">——总结篇各班在每周评选出的劳动之</tspan><tspan x="173" y="1934">星中推选2—3名幼儿参选幼儿园的"劳动小能</tspan><tspan x="173" y="1949">手"评选，向"劳动小能手"获得者发予劳动奖章</tspan><tspan x="173" y="1963">。</tspan></text></g>
<g id="p4-a"><text class="t"><tspan x="525" y="2013">艾丽洁洗衣继"关爱从身边做起"艾丽洁洗衣走</tspan><tspan x="525" y="2027">进维邦·奥林花园帮扶活动后，秉承集团核心</tspan><tspan x="525" y="2041.5">理念，结合实际，深化帮扶力度，以通过更多</tspan><tspan x="525" y="2056">形式、走进更多小区、帮助更多弱势群体为目</tspan><tspan x="525" y="2070">标，特制定了主题为"健康五一节·爱心衣加衣</tspan><tspan x="525" y="2084">"艾丽洁洗衣走社区帮扶活动计划。用实际行</tspan><tspan x="525" y="2099">动为创建和谐社区做贡献。</tspan></text></g>
<g id="p4-b"><text class="t e" x="747" y="2156">一、活动对象：</text></g>
<g id="p4-b1"><text class="t"><tspan x="410" y="2148">艾丽洁洗衣店周围小区的空巢老人及困难业主</tspan><tspan x="410" y="2162.5">。</tspan></text></g>
<g id="p4-c"><text class="t e" x="747" y="2212">二、活动时间：</text></g>
<g id="p4-c1"><text class="t e" x="634" y="2212">20_年5月1日—20_年5月7日</text></g>
<g id="p4-d"><text class="t e" x="747" y="2261">三、活动地点：</text></g>
<g id="p4-d1"><text class="t e" x="634" y="2261">艾丽洁洗衣各连锁店</text></g>
<g id="p4-e"><text class="t e" x="747" y="2398">四、活动内容：</text></g>
<g id="p4-e1"><text class="t"><tspan x="410" y="2311">（一）艾丽洁洗衣各连锁店面，走进社区，进</tspan><tspan x="410" y="2325">一步开展"关爱从身边做起"系列活动。活动严</tspan><tspan x="410" y="2340">格按照艾丽洁洗衣上门服务管理办法实施。</tspan></text></g>
<g id="p4-e2"><text class="t e" x="634" y="2401">（二）皮衣保养新攻略（只限现金消费）：</text></g>
<g id="p4-e2a"><text class="t"><tspan x="160" y="2389">凡在活动期间清洗、保养皮草类（貂皮、皮包</tspan><tspan x="160" y="2403">、皮鞋）、皮革类家居用品（皮沙发、汽车</tspan><tspan x="160" y="2419.6">座套等），一律5折。</tspan></text></g>
<g id="p4-e3"><text class="t"><tspan x="410" y="2468">（三）活动期间办理会员卡一律8折（折上折</tspan><tspan x="410" y="2483.5">）。</tspan></text></g>
<g id="p4-f"><text class="t e" x="747" y="2553">五、短信、LED内容：</text></g>
<g id="p4-f1"><text class="t"><tspan x="378" y="2532">艾丽洁洗衣于20_年5月1日—20_年5月7日</tspan><tspan x="378" y="2547">举办"健康五一节·爱心衣加衣"艾丽洁洗衣走</tspan><tspan x="378" y="2561">社区帮扶活动，凡在活动期间办理会员卡可享</tspan><tspan x="378" y="2575">受8折优惠，欢迎惠顾。</tspan></text></g>
<g id="p4-g"><text class="t e" x="747" y="2673">六、人员分配：</text></g>
<g id="p4-g1"><text class="t e" x="634" y="2624">（1）宣传负责人：邵鹏敏、马丽</text></g>
<g id="p4-g2"><text class="t e" x="634" y="2674">（2）帮扶活动实施负责人：曹艳、吴霞</text></g>
<g id="p4-g3"><text class="t e" x="634" y="2723">（3）客户投诉负责人：张景博</text></g>
<g id="p4-h"><text class="t e" x="747" y="2841.5">七、活动前：</text></g>
<g id="p4-h1"><text class="t e" x="645" y="2773">负责人：各连锁店面前台收银人员</text></g>
<g id="p4-h2"><text class="t e" x="640" y="2911">筹备时间：</text></g>
<g id="p4-h2a"><text class="t"><tspan x="329" y="2822">1、艾丽洁洗衣各连锁店面前台收银人员主动</tspan><tspan x="329" y="2836.6">与社区物业联系，合理确定帮扶对象（主要针</tspan><tspan x="329" y="2851">对社区内孤寡老人、弱势群体）。</tspan></text></g>
<g id="p4-h2b"><text class="t"><tspan x="329" y="2900">2、围绕活动主题，深入帮扶对象进行走访调</tspan><tspan x="329" y="2914">查，详细了解各业主的经济发展状况。</tspan></text></g>
<g id="p4-h2c"><text class="t"><tspan x="329" y="2964">3、按需帮助小区空巢老人免费清洗床单被罩</tspan><tspan x="329" y="2978.5">、冬季防寒服、沙发套、窗帘等大型物件，并</tspan><tspan x="329" y="2993">每月定期打电话了解洗涤需求且上门收送衣物</tspan><tspan x="329" y="3009">。</tspan></text></g>
<g id="p4-i"><text class="t e" x="747" y="3116.5">八、活动中：</text></g>
<g id="p4-i1"><text class="t"><tspan x="421" y="3057">1、帮扶活动实施负责人对活动项目流程、内</tspan><tspan x="421" y="3071">容等具体事项的监督操作。</tspan></text></g>
<g id="p4-i2"><text class="t e" x="645" y="3121">2、活动中出现问题的及时处理。</text></g>
<g id="p4-i3"><text class="t e" x="645" y="3170">3、活动当日客户反馈信息的收集和处理。</text></g>
<g id="p4-j"><text class="t e" x="747" y="3269">九、活动后：</text></g>
<g id="p4-j1"><text class="t"><tspan x="421" y="3220">1、客户跟踪调查回访：活动后通过对客户的</tspan><tspan x="421" y="3234">追踪回访，统计总结活动得失经验（负责人：</tspan><tspan x="421" y="3249">马丽）。</tspan></text></g>
<g id="p4-j2"><text class="t"><tspan x="421" y="3298">2、活动数据的整理（效果评估）：通过活动</tspan><tspan x="421" y="3312.5">总结数据的统计（负责人：曹艳、吴霞）。</tspan></text></g>
<g id="p6-a"><text class="t e" x="749" y="3386">一、活动主题</text></g>
<g id="p6-a1"><text class="t e" x="645" y="3361.6">红人集结会，将省钱进行到底</text></g>
<g id="p6-a2"><text class="t e" x="645" y="3411">红蜘蛛瓷砖5.1全国联动豪情巨献</text></g>
<g id="p6-b"><text class="t e" x="749" y="3521">二、活动目的</text></g>
<g id="p6-b1"><text class="t e" x="645" y="3461">☆通过促销，提升品牌知名度</text></g>
<g id="p6-b2"><text class="t"><tspan x="421" y="3510">☆通过促销活动，全面展开渠道攻势，实现销</tspan><tspan x="421" y="3524.5">售目标。</tspan></text></g>
<g id="p6-b3"><text class="t"><tspan x="421" y="3574">☆拉升经销商零售业绩，处理积压库存、滞销</tspan><tspan x="421" y="3588">产品、优化库存结构。</tspan></text></g>
<g id="p6-c"><text class="t e" x="749" y="3662">三、活动地点</text></g>
<g id="p6-c1"><text class="t e" x="645" y="3638">全国旗舰店、专卖店、专卖区</text></g>
<g id="p6-c2"><text class="t e" x="645" y="3687.5">包括分销网络同步展开，主力为二级市场。</text></g>
<g id="p6-d"><text class="t e" x="749" y="3765">四、活动时间</text></g>
<g id="p6-d1"><text class="t e" x="645" y="3737">4月10日至5月8日(5.1之后第1个周末)</text></g>
<g id="p6-d2"><text class="t"><tspan x="421" y="3786">宣传发动时间较长、有利于多层次立体化传播</tspan><tspan x="421" y="3799.5">、口碑营销周期长。</tspan></text></g>
<g id="p6-e"><text class="t e" x="749" y="3943">五、活动内容</text></g>
<g id="p6-e1"><text class="t e" x="645" y="3865">1、全场直降70%，超省一口价</text></g>
<g id="p6-e1a"><text class="t"><tspan x="232" y="3850">选定部分瓷片、小地砖和抛光砖进行特价销售</tspan><tspan x="232" y="3865">;其余产品统一6折。(根据经销商库存、当地</tspan><tspan x="232" y="3879.5">市场定)</tspan></text></g>
<g id="p6-e2"><text class="t e" x="645" y="3943">2、温馨套餐，省心省钱</text></g>
<g id="p6-e2a"><text class="t"><tspan x="265.5" y="3929">厨房(20平米墙地一体)+卫生间(20平米墙地</tspan><tspan x="265.5" y="3944">一体)=2880元。(制定型号搭配，建议3款，</tspan><tspan x="265.5" y="3958">库存产品、小色号产品或不畅销产品)</tspan></text></g>
<g id="p6-e3"><text class="t e" x="645" y="4022">3、约会红人，还能再省!</text></g>
<g id="p6-e3a"><text class="t"><tspan x="263" y="4007">活动期间，凡名字中有红字或活动当天交定金</tspan><tspan x="263" y="4022">前10名的业主均有机会参加抽奖，抽奖礼品</tspan><tspan x="263" y="4036">为货款总额的1%5%</tspan></text></g>
</g>
</svg>
